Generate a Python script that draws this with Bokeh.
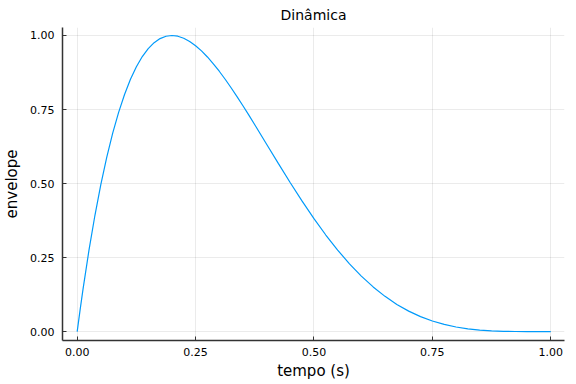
from bokeh.plotting import figure
from bokeh.models import Range1d, FixedTicker
from bokeh.embed import file_html
from bokeh.resources import INLINE

tempo = [0.0, 0.00625, 0.0125, 0.025, 0.0375, 0.05, 0.0625, 0.075, 0.0875, 0.1, 0.1125,
         0.125, 0.1375, 0.15, 0.1625, 0.175, 0.1875, 0.2, 0.2125, 0.225, 0.2375, 0.25,
         0.2625, 0.275, 0.2875, 0.3, 0.3125, 0.325, 0.3375, 0.35, 0.3625, 0.375, 0.3875, 0.4,
         0.425, 0.45, 0.475, 0.5,
         0.525, 0.55, 0.575, 0.6, 0.625, 0.65, 0.675, 0.7, 0.725, 0.75,
         0.775, 0.8, 0.825, 0.85, 0.875, 0.9, 0.925, 0.95, 0.975, 1.0]
envelope = [0.0, 0.0744, 0.1451, 0.2758, 0.3929, 0.4971, 0.5894, 0.6703, 0.7405, 0.8009, 0.8520,
            0.8944, 0.9289, 0.9558, 0.9759, 0.9896, 0.9975, 1.0, 0.9976, 0.9908, 0.9800, 0.9656,
            0.9480, 0.9275, 0.9045, 0.8793, 0.8522, 0.8236, 0.7937, 0.7627, 0.7309, 0.6985, 0.6657, 0.6328,
            0.5671, 0.5027, 0.4405, 0.3815,
            0.3262, 0.2753, 0.2290, 0.1875, 0.1509, 0.1191, 0.0919, 0.0692, 0.0506, 0.0358,
            0.0242, 0.0156, 0.0094, 0.0053, 0.0026, 0.0011, 0.0004, 0.0001, 0.0, 0.0]

x_ticks = [0.0, 0.25, 0.5, 0.75, 1.0]
x_tick_labels = ["0.00", "0.25", "0.50", "0.75", "1.00"]
y_ticks = [0.0, 0.25, 0.5, 0.75, 1.0]
y_tick_labels = ["0.00", "0.25", "0.50", "0.75", "1.00"]

FONT = "DejaVu Sans"

p = figure(frame_width=502, frame_height=313, output_backend="svg", toolbar_location=None,
           x_range=Range1d(-0.031, 1.029), y_range=Range1d(-0.030, 1.027),
           title="Dinâmica", x_axis_label="tempo (s)", y_axis_label="envelope")
p.min_border_left = 54
p.min_border_right = 4
p.min_border_top = 26
p.min_border_bottom = 36
p.outline_line_color = None
p.background_fill_color = "white"

p.title.align = "center"
p.title.text_font = FONT
p.title.text_font_size = "14px"
p.title.text_font_style = "normal"
p.title.text_color = "#000000"
p.title.standoff = 9

p.xaxis.ticker = FixedTicker(ticks=x_ticks)
p.yaxis.ticker = FixedTicker(ticks=y_ticks)
p.xaxis.major_label_overrides = {t: l for t, l in zip(x_ticks, x_tick_labels)}
p.yaxis.major_label_overrides = {t: l for t, l in zip(y_ticks, y_tick_labels)}

for ax in (p.xaxis, p.yaxis):
    ax.axis_line_color = "#333333"
    ax.axis_line_width = 1.5
    ax.major_tick_line_color = "#333333"
    ax.major_tick_in = 4
    ax.major_tick_out = 0
    ax.minor_tick_line_color = None
    ax.major_label_text_font = FONT
    ax.major_label_text_font_size = "11px"
    ax.major_label_text_color = "#000000"
    ax.axis_label_text_font = FONT
    ax.axis_label_text_font_size = "15px"
    ax.axis_label_text_font_style = "normal"
    ax.axis_label_text_color = "#000000"
p.xaxis.major_label_standoff = 7
p.xaxis.axis_label_standoff = 3
p.yaxis.major_label_standoff = 8
p.yaxis.axis_label_standoff = 6

p.grid.grid_line_color = "black"
p.grid.grid_line_alpha = 0.08

p.line(tempo, envelope, line_color="#009AFA", line_width=1.2)

open("out.html", "w").write(file_html(p, INLINE))
